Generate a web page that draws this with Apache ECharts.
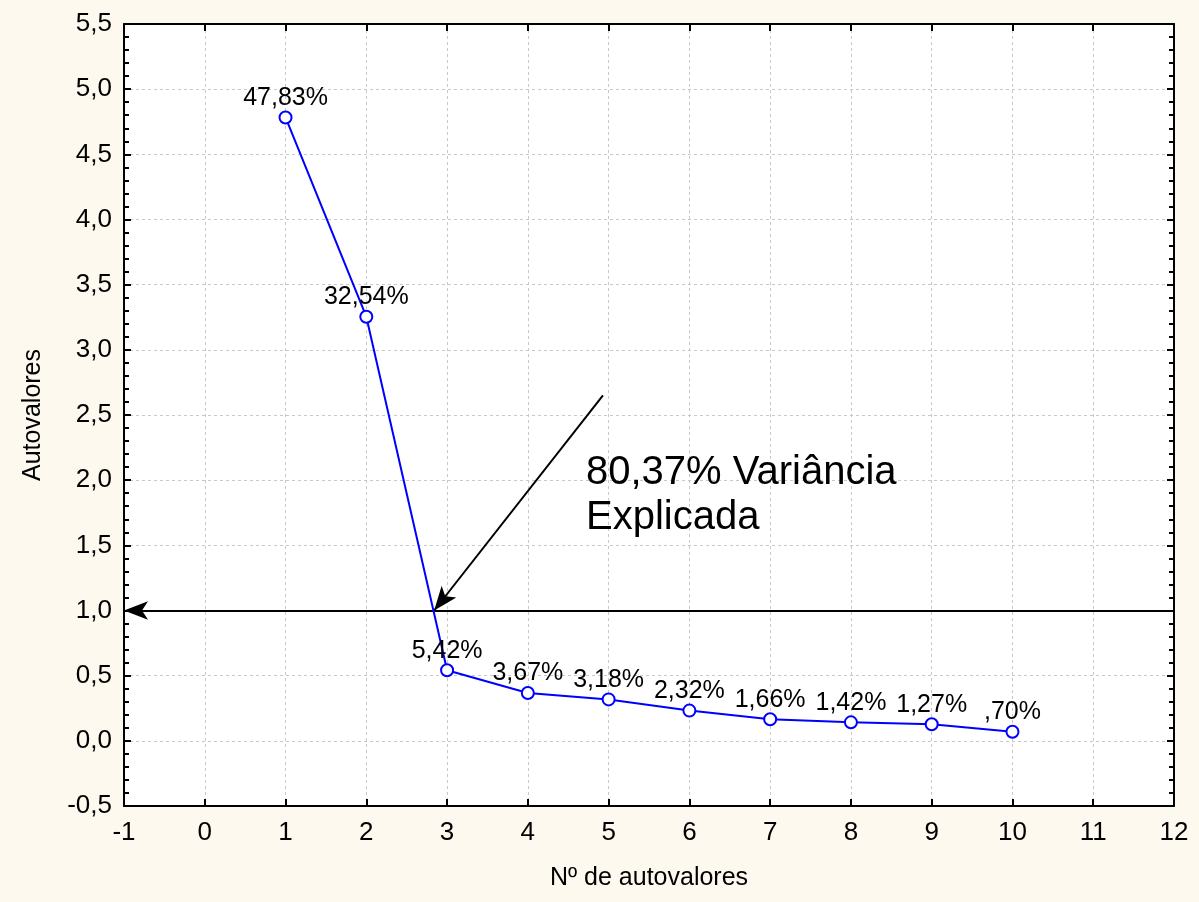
<!DOCTYPE html>
<html>
<head>
<meta charset="utf-8">
<script src="https://cdn.jsdelivr.net/npm/echarts@6/dist/echarts.min.js"></script>
<style>
html,body{margin:0;padding:0;background:#fdf9ef;}
#c{width:1199px;height:902px;}
</style>
</head>
<body>
<div id="c"></div>
<script>
const components = [1, 2, 3, 4, 5, 6, 7, 8, 9, 10];
const eigenvalues = [4.783, 3.254, 0.542, 0.367, 0.318, 0.232, 0.166, 0.142, 0.127, 0.070];
const varianceLabels = ['47,83%', '32,54%', '5,42%', '3,67%', '3,18%', '2,32%', '1,66%', '1,42%', '1,27%', ',70%'];
const xRange = [-1, 12];
const yRange = [-0.5, 5.5];
const cutoffLine = [[12, 1.0], [-1, 1.0]];
const pointerArrow = [[4.93, 2.65], [2.84, 1.0]];
const annotationText = '80,37% Variância\nExplicada';

const FONT = '"Liberation Sans", Arial, sans-serif';
const chart = echarts.init(document.getElementById('c'), null, {renderer: 'canvas'});
const fmt = v => v.toFixed(1).replace('.', ',');

const option = {
  backgroundColor: '#fdf9ef',
  animation: false,
  grid: {left: 124, right: 25, top: 24, bottom: 96, show: true, backgroundColor: '#ffffff', borderWidth: 0},
  xAxis: [{
    type: 'value', min: xRange[0], max: xRange[1], interval: 1,
    name: 'Nº de autovalores', nameLocation: 'middle', nameGap: 60,
    nameTextStyle: {fontFamily: FONT, fontSize: 25, color: '#000'},
    axisLine: {show: true, onZero: false, lineStyle: {color: '#000', width: 2}},
    axisTick: {show: true, inside: true, length: 7, lineStyle: {color: '#000', width: 2}},
    axisLabel: {fontFamily: FONT, fontSize: 26, color: '#000', margin: 14},
    splitLine: {show: true, lineStyle: {color: '#c8c8c8', type: [3, 3], width: 1}}
  }, {
    type: 'value', position: 'top', min: xRange[0], max: xRange[1], interval: 1,
    axisLine: {show: true, onZero: false, lineStyle: {color: '#000', width: 2}},
    axisTick: {show: true, inside: true, length: 7, lineStyle: {color: '#000', width: 2}},
    axisLabel: {show: false}, splitLine: {show: false}
  }],
  yAxis: [{
    type: 'value', min: yRange[0], max: yRange[1], interval: 0.5,
    name: 'Autovalores', nameLocation: 'middle', nameGap: 78, nameRotate: 90,
    nameTextStyle: {fontFamily: FONT, fontSize: 25, color: '#000'},
    axisLine: {show: true, onZero: false, lineStyle: {color: '#000', width: 2}},
    axisTick: {show: true, inside: true, length: 7, lineStyle: {color: '#000', width: 2}},
    minorTick: {show: true, splitNumber: 5, length: 5, lineStyle: {color: '#000', width: 2}},
    axisLabel: {fontFamily: FONT, fontSize: 26, color: '#000', margin: 12, formatter: fmt},
    splitLine: {show: true, lineStyle: {color: '#c8c8c8', type: [3, 3], width: 1}}
  }, {
    type: 'value', position: 'right', min: yRange[0], max: yRange[1], interval: 0.5,
    axisLine: {show: true, onZero: false, lineStyle: {color: '#000', width: 2}},
    axisTick: {show: true, inside: true, length: 7, lineStyle: {color: '#000', width: 2}},
    minorTick: {show: true, splitNumber: 5, length: 5, lineStyle: {color: '#000', width: 2}},
    axisLabel: {show: false}, splitLine: {show: false}
  }],
  series: [{
    type: 'line',
    data: components.map((c, i) => [c, eigenvalues[i]]),
    symbol: 'circle', symbolSize: 12, showAllSymbol: true,
    lineStyle: {color: '#0000ff', width: 2},
    itemStyle: {color: '#ffffff', borderColor: '#0000ff', borderWidth: 2},
    label: {
      show: true, position: 'top', distance: 0,
      fontFamily: FONT, fontSize: 25, color: '#000',
      formatter: p => varianceLabels[p.dataIndex]
    },
    z: 5,
    markLine: {
      silent: true, animation: false,
      symbol: ['none', 'arrow'], symbolSize: [14, 24],
      label: {show: false},
      lineStyle: {color: '#000', width: 2, type: 'solid'},
      data: [
        [{coord: cutoffLine[0]}, {coord: cutoffLine[1]}],
        [{coord: pointerArrow[0]}, {coord: pointerArrow[1]}]
      ]
    }
  }],
  graphic: [{
    type: 'text', left: 586, top: 450, z: 10,
    style: {text: annotationText, fontFamily: FONT, fontSize: 40, fill: '#000', lineHeight: 45}
  }]
};
chart.setOption(option);
</script>
</body>
</html>
